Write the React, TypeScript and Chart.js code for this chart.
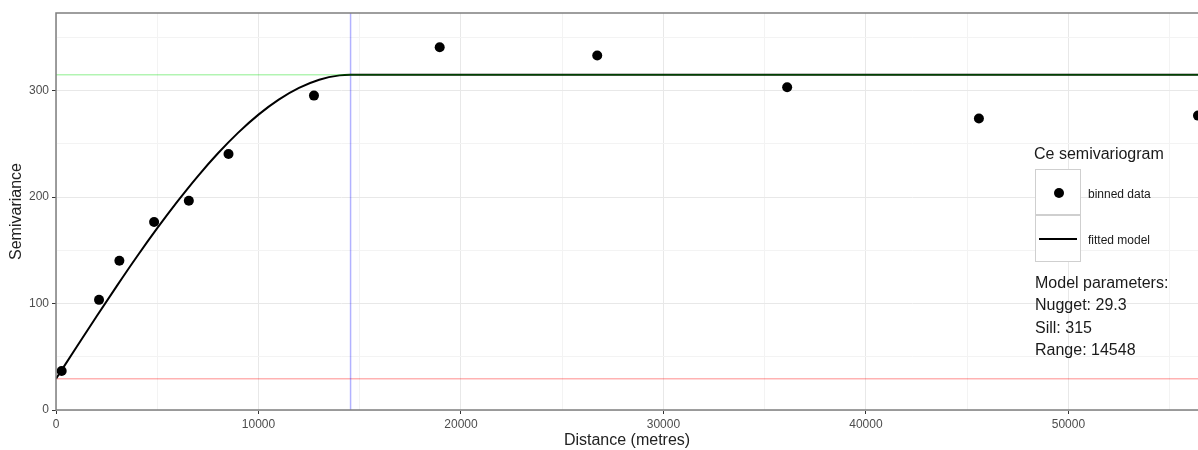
import React, { useEffect, useRef } from "react";
import { Chart, registerables } from "chart.js";

Chart.register(...registerables);

const binDistance = [280, 2125, 3130, 4845, 6560, 8520, 12740, 18950, 26730, 36110, 45580, 56400];
const binSemivariance = [36.7, 103.5, 140.2, 176.6, 196.6, 240.5, 295.4, 340.8, 333, 303.2, 273.8, 276.6];

// Fitted model curve
const modelDistance = [0, 1000, 2000, 3000, 4000, 5000, 6000, 7000, 8000, 9000, 10000, 11000, 12000, 13000, 14000, 14548, 56400];
const modelSemivariance = [29.3, 58.7, 87.8, 116.4, 144.2, 170.8, 196, 219.6, 241.2, 260.6, 277.5, 291.6, 302.6, 310.3, 314.4, 315, 315];

const nugget = 29.3;
const sill = 315;
const rangeDist = 14548;

const xMin = 0;
const xMax = 56400;
const yMin = 0;
const yMax = 373;

const xTicks = [0, 5000, 10000, 15000, 20000, 25000, 30000, 35000, 40000, 45000, 50000, 55000];
const yTicks = [0, 50, 100, 150, 200, 250, 300, 350];

const legendTitle = "Ce semivariogram";
const legendItems = ["binned data", "fitted model"];
const paramLines = ["Model parameters:", "Nugget: 29.3", "Sill: 315", "Range: 14548"];

const FONT = "'Liberation Sans', Arial, Helvetica, sans-serif";

const framePlugin = {
  id: "frame",
  afterDatasetsDraw(chart: any) {
    const { ctx, chartArea } = chart;
    const { left, top, right, bottom } = chartArea;
    ctx.save();
    ctx.strokeStyle = "#7f7f7f";
    ctx.lineWidth = 1.5;
    ctx.beginPath();
    ctx.moveTo(right + 5, top);
    ctx.lineTo(left, top);
    ctx.lineTo(left, bottom);
    ctx.lineTo(right + 5, bottom);
    ctx.stroke();
    ctx.restore();
  },
};

export default function App() {
  const canvasRef = useRef<HTMLCanvasElement | null>(null);

  useEffect(() => {
    const canvas = canvasRef.current;
    if (!canvas) return;
    const chart = new Chart(canvas, {
      type: "scatter",
      data: {
        datasets: [
          {
            label: "binned data",
            data: binDistance.map((x, i) => ({ x, y: binSemivariance[i] })),
            backgroundColor: "#000",
            borderColor: "#000",
            pointRadius: 5,
            borderWidth: 0,
            showLine: false,
            order: 0,
          },
          {
            label: "sill",
            data: [
              { x: xMin, y: sill },
              { x: xMax, y: sill },
            ],
            showLine: true,
            borderColor: "rgba(0,220,0,0.3)",
            borderWidth: 1.5,
            pointRadius: 0,
            order: 1,
          },
          {
            label: "fitted model",
            data: modelDistance.map((x, i) => ({ x, y: modelSemivariance[i] })),
            showLine: true,
            borderColor: "#000",
            borderWidth: 2,
            pointRadius: 0,
            cubicInterpolationMode: "monotone",
            order: 2,
          },
          {
            label: "range",
            data: [
              { x: rangeDist, y: yMin },
              { x: rangeDist, y: yMax },
            ],
            showLine: true,
            borderColor: "rgba(0,0,255,0.3)",
            borderWidth: 1.5,
            pointRadius: 0,
            order: 3,
          },
          {
            label: "nugget",
            data: [
              { x: xMin, y: nugget },
              { x: xMax, y: nugget },
            ],
            showLine: true,
            borderColor: "rgba(255,0,0,0.3)",
            borderWidth: 1.5,
            pointRadius: 0,
            order: 4,
          },
        ],
      },
      options: {
        animation: false,
        responsive: false,
        devicePixelRatio: 1,
        layout: { autoPadding: false, padding: { top: 13, right: 0, bottom: 0, left: 0 } },
        plugins: {
          legend: { display: false },
          tooltip: { enabled: false },
        },
        scales: {
          x: {
            type: "linear",
            min: xMin,
            max: xMax,
            afterBuildTicks: (s: any) => {
              s.ticks = xTicks.map((v) => ({ value: v }));
            },
            afterFit: (s: any) => {
              s.height = 40;
            },
            border: { display: false },
            grid: {
              color: (c: any) => (c.tick && c.tick.value % 10000 === 0 ? "#e8e8e8" : "#f3f3f3"),
              tickColor: (c: any) => (c.tick && c.tick.value % 10000 === 0 ? "#333" : "rgba(0,0,0,0)"),
              tickLength: 4,
              lineWidth: 1,
            },
            ticks: {
              autoSkip: false,
              maxRotation: 0,
              padding: 3,
              color: "#4d4d4d",
              font: { family: FONT, size: 12 },
              callback: (v: any) => (Number(v) % 10000 === 0 ? String(v) : ""),
            },
            title: {
              display: true,
              text: "Distance (metres)",
              color: "#222",
              font: { family: FONT, size: 16 },
              padding: { top: 0, bottom: 0 },
            },
          },
          y: {
            type: "linear",
            min: yMin,
            max: yMax,
            afterBuildTicks: (s: any) => {
              s.ticks = yTicks.map((v) => ({ value: v }));
            },
            afterFit: (s: any) => {
              s.width = 56;
            },
            border: { display: false },
            grid: {
              color: (c: any) => (c.tick && c.tick.value % 100 === 0 ? "#e8e8e8" : "#f3f3f3"),
              tickColor: (c: any) => (c.tick && c.tick.value % 100 === 0 ? "#333" : "rgba(0,0,0,0)"),
              tickLength: 4,
              lineWidth: 1,
            },
            ticks: {
              autoSkip: false,
              padding: 3,
              color: "#4d4d4d",
              font: { family: FONT, size: 12 },
              callback: (v: any) => (Number(v) % 100 === 0 ? String(v) : ""),
            },
            title: {
              display: true,
              text: "Semivariance",
              color: "#222",
              font: { family: FONT, size: 16 },
              padding: { top: 7, bottom: 0 },
            },
          },
        },
      },
      plugins: [framePlugin],
    } as any);
    return () => chart.destroy();
  }, []);

  const textBase: React.CSSProperties = {
    position: "absolute",
    fontFamily: FONT,
    color: "#1a1a1a",
    whiteSpace: "nowrap",
  };

  const paramCenters = [282.5, 304.8, 327.5, 350];

  return (
    <div style={{ position: "absolute", left: 0, top: 0, width: 1198, height: 450, overflow: "hidden", background: "#fff" }}>
      <canvas ref={canvasRef} width={1198} height={450} style={{ display: "block" }} />
      <div style={{ ...textBase, left: 1034, top: 154 - 9, fontSize: 16, lineHeight: "18px" }}>{legendTitle}</div>
      <div style={{ position: "absolute", left: 1035, top: 169, width: 46, height: 46, border: "1.5px solid #cfcfcf", boxSizing: "border-box", background: "#fff" }}>
        <div style={{ position: "absolute", left: 18, top: 18, width: 10, height: 10, borderRadius: "50%", background: "#000" }} />
      </div>
      <div style={{ position: "absolute", left: 1035, top: 215, width: 46, height: 47, border: "1.5px solid #cfcfcf", boxSizing: "border-box", background: "#fff" }}>
        <div style={{ position: "absolute", left: 3, top: 21.5, width: 38, height: 2.2, background: "#000" }} />
      </div>
      <div style={{ ...textBase, left: 1088, top: 193.5 - 7, fontSize: 12, lineHeight: "14px" }}>{legendItems[0]}</div>
      <div style={{ ...textBase, left: 1088, top: 239.5 - 7, fontSize: 12, lineHeight: "14px" }}>{legendItems[1]}</div>
      {paramLines.map((t, i) => (
        <div key={t} style={{ ...textBase, left: 1035, top: paramCenters[i] - 9, fontSize: 16, lineHeight: "18px" }}>
          {t}
        </div>
      ))}
    </div>
  );
}
